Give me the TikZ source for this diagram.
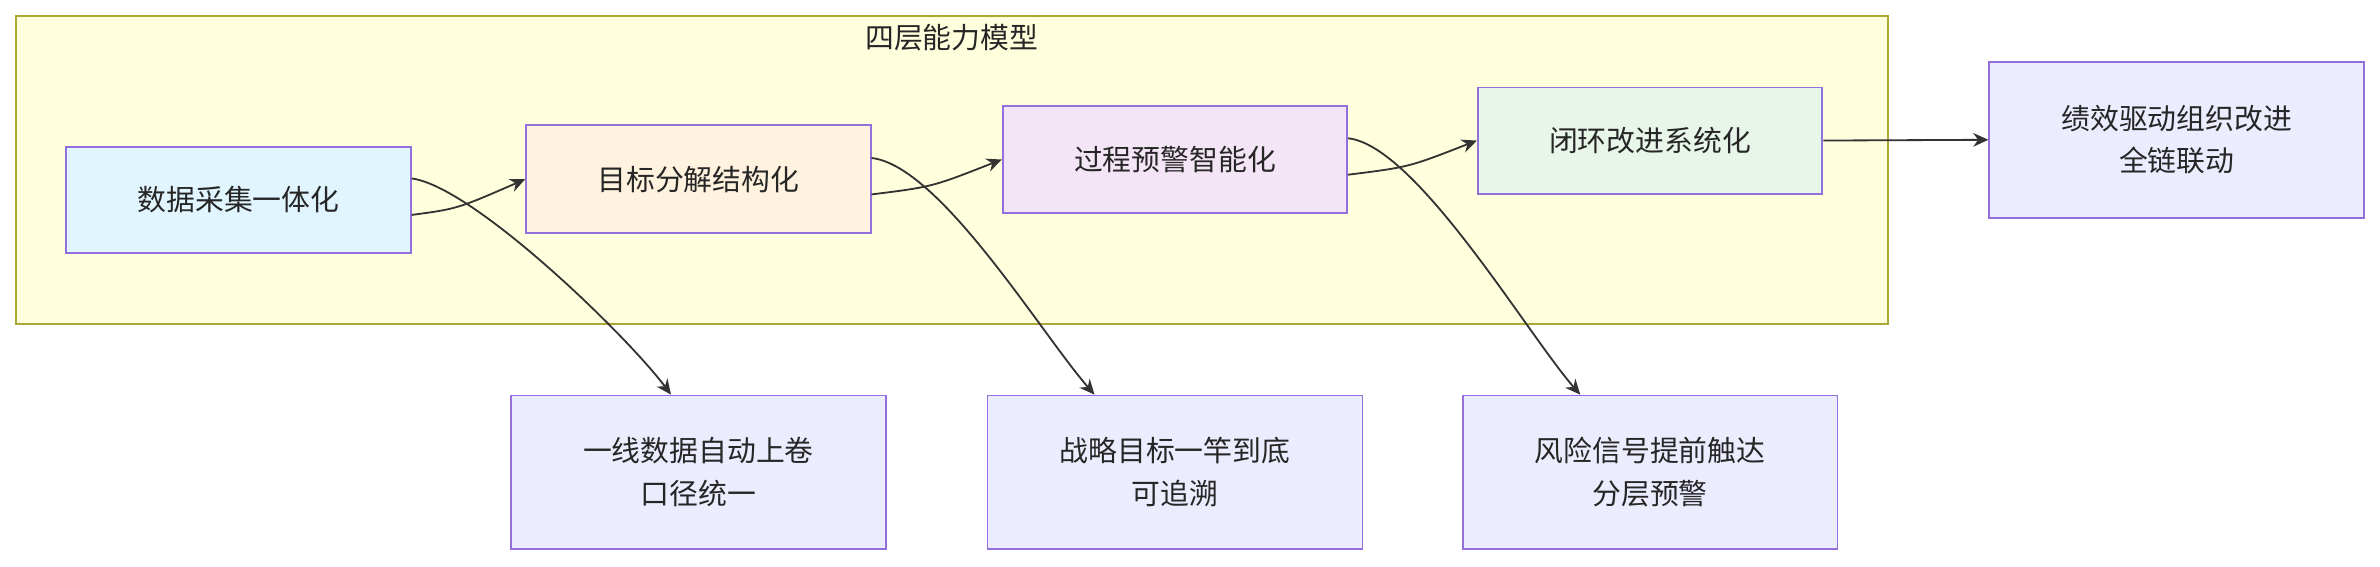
\documentclass[tikz,border=0pt]{standalone}
\usepackage{fontspec}
\setmainfont{Noto Sans CJK SC}
\usetikzlibrary{arrows.meta}
\definecolor{clfill}{HTML}{FFFFDE}\definecolor{clline}{HTML}{AAAA33}
\definecolor{nline}{HTML}{9370DB}
\definecolor{fa}{HTML}{E1F5FE}\definecolor{fb}{HTML}{FFF3E0}
\definecolor{fc}{HTML}{F3E5F5}\definecolor{fd}{HTML}{E8F5E9}
\definecolor{fe}{HTML}{ECECFF}\definecolor{edge}{HTML}{333333}
\begin{document}
\begin{tikzpicture}[x=0.5pt,y=-0.5pt,
  box/.style={draw=nline,line width=0.6pt,inner sep=0pt,align=center,font=\fontsize{9.5}{14}\selectfont,text=black!85},
  conn/.style={draw=edge,line width=0.6pt,-{Stealth[length=5pt,width=4.5pt]}}]
\useasboundingbox (0,0) rectangle (1568,373);
\node[draw=clline,fill=clfill,line width=0.6pt,minimum width=616.5pt,minimum height=101.5pt,inner sep=0pt,anchor=north west] (cl) at (10,10) {};
\node[font=\fontsize{9.5}{12}\selectfont,text=black!85] (t) at (627,25) {四层能力模型};
\node[box,fill=fa,minimum width=113.5pt,minimum height=35pt,anchor=north west] (a) at (43,96) {数据采集一体化};
\node[box,fill=fb,minimum width=113.5pt,minimum height=35.5pt,anchor=north west] (b) at (346,82) {目标分解结构化};
\node[box,fill=fc,minimum width=113.5pt,minimum height=35.5pt,anchor=north west] (c) at (660,69) {过程预警智能化};
\node[box,fill=fd,minimum width=113.5pt,minimum height=35pt,anchor=north west] (d) at (973,57) {闭环改进系统化};
\node[box,fill=fe,minimum width=123.5pt,minimum height=51.5pt,anchor=north west] (e) at (1310,40) {绩效驱动组织改进\\全链联动};
\node[box,fill=fe,minimum width=123.5pt,minimum height=50.5pt,anchor=north west] (f) at (336,260) {一线数据自动上卷\\口径统一};
\node[box,fill=fe,minimum width=123.5pt,minimum height=50.5pt,anchor=north west] (g) at (650,260) {战略目标一竿到底\\可追溯};
\node[box,fill=fe,minimum width=123.5pt,minimum height=50.5pt,anchor=north west] (h) at (963,260) {风险信号提前触达\\分层预警};
\draw[conn] ([yshift=-5pt]a.east) .. controls +(30,-4) .. (b.west);
\draw[conn] ([yshift=-5pt]b.east) .. controls +(40,-5) .. (c.west);
\draw[conn] ([yshift=-5pt]c.east) .. controls +(40,-5) .. (d.west);
\draw[conn] (d.east) -- (e.west);
\draw[conn] ([yshift=7pt]a.east) .. controls +(40,5) and +(-30,-40) .. ([xshift=-9pt]f.north);
\draw[conn] ([yshift=7pt]b.east) .. controls +(45,5) and +(-35,-40) .. ([xshift=-26.5pt]g.north);
\draw[conn] ([yshift=7pt]c.east) .. controls +(45,5) and +(-35,-40) .. ([xshift=-23pt]h.north);
\end{tikzpicture}
\end{document}
